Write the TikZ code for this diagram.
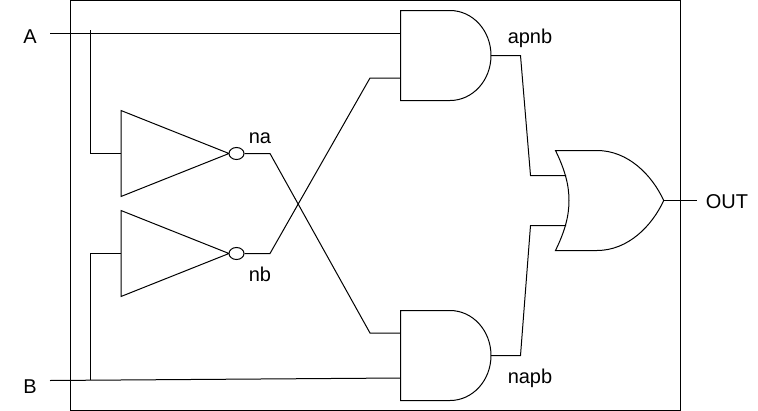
\documentclass[tikz,border=0pt]{standalone}
\usepackage{fontspec}
\setmainfont{Liberation Sans}
\usetikzlibrary{shapes.geometric}
\tikzset{
  wire/.style={draw=black, line width=0.75pt, line join=miter},
  gateline/.style={draw=black, fill=white, line width=0.75pt, line join=miter},
  bubble/.style={ellipse, draw=black, fill=white, line width=0.75pt, inner sep=0pt, minimum width=11.25pt, minimum height=9pt},
  lbl/.style={anchor=base, inner sep=0pt, font=\fontsize{15}{18}\selectfont}
}
\begin{document}
\begin{tikzpicture}[x=0.75pt, y=-0.75pt]
\useasboundingbox (0,0) rectangle (758,411);

% Rahmen
\draw[wire] (70.5,0.5) rectangle (680.5,410.5);

% Beschriftung
\node[lbl] (lblA) at (30,43.5) {A};
\node[lbl] (lblB) at (30,393.5) {B};
\node[lbl] (lblna) at (260,143) {na};
\node[lbl] (lblnb) at (260,281.7) {nb};
\node[lbl] (lblapnb) at (530,43.5) {apnb};
\node[lbl] (lblnapb) at (530,383.5) {napb};
\node[lbl] (lblOUT) at (727,208.5) {OUT};

% Punkte
\coordinate (inA) at (50,33);
\coordinate (inB) at (50,380.5);
\coordinate (tapA) at (90.5,30);
\coordinate (tapB) at (90.5,380);
\coordinate (kinkna) at (270,153.5);
\coordinate (kinknb) at (270,253.5);
\coordinate (kinkapnb) at (520.5,55.5);
\coordinate (kinknapb) at (520.5,355.5);
\coordinate (outpin) at (697,200.5);

% Inverter
\foreach \n/\y in {a/153.5,b/253.5} {
  \draw[gateline] (121,\y-43) -- (229,\y) -- (121,\y+43) -- cycle;
  \coordinate (inv\n) at (121,\y);
  \node[bubble] (bub\n) at (236.5,\y) {};
}

% AND-Gatter
\foreach \n/\y in {1/10.5,2/310.5} {
  \draw[gateline] (400.5,\y) -- (450,\y) .. controls (472.6,\y) and (491,\y+20) .. (491,\y+45)
    .. controls (491,\y+70) and (472.6,\y+90) .. (450,\y+90) -- (400.5,\y+90) -- cycle;
  \coordinate (and\n up) at (400.5,\y+22.5);
  \coordinate (and\n down) at (400.5,\y+67.5);
  \coordinate (and\n out) at (491,\y+45);
}

% OR-Gatter
\draw[gateline] (555.5,150.5) -- (597,150.5) .. controls (628,150.5) and (652,175) .. (663.7,200.5)
  .. controls (652,226) and (628,250.5) .. (597,250.5) -- (555.5,250.5)
  .. controls (565,231) and (569,216) .. (569,200.5)
  .. controls (569,185) and (565,170) .. (555.5,150.5) -- cycle;
\coordinate (orup) at (566,175.5);
\coordinate (ordown) at (566,225.5);
\coordinate (orout) at (663.7,200.5);

% Leitungen
\draw[wire] (inA) -- (and1up);
\draw[wire] (tapA) -- (tapA |- inva) -- (inva);
\draw[wire] (inB) -- (and2down);
\draw[wire] (tapB) -- (tapB |- invb) -- (invb);
\draw[wire] (buba.east) -- (kinkna) -- (370,333) -- (and2up);
\draw[wire] (bubb.east) -- (kinknb) -- (370,78) -- (and1down);
\draw[wire] (and1out) -- (kinkapnb) -- (530.5,175.5) -- (orup);
\draw[wire] (and2out) -- (kinknapb) -- (530.5,225.5) -- (ordown);
\draw[wire] (orout) -- (outpin);
\end{tikzpicture}
\end{document}
